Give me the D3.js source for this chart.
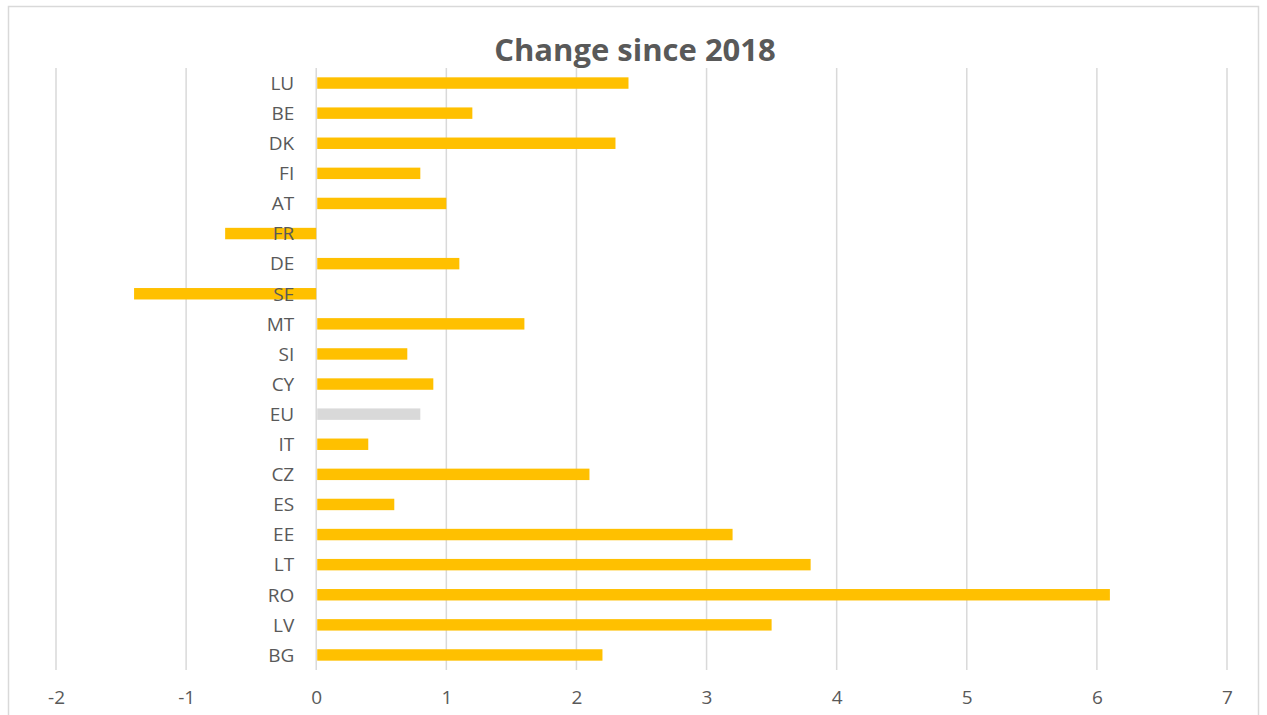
<!DOCTYPE html>
<html>
<head>
<meta charset="utf-8">
<script src="https://cdn.jsdelivr.net/npm/d3@7"></script>
<style>
  html, body { margin: 0; padding: 0; background: #fff; }
  svg { display: block; font-family: "Open Sans", "Liberation Sans", sans-serif; }
</style>
</head>
<body>
<svg id="chart" width="1267" height="715"></svg>
<script>
// Country codes, top to bottom
const countries = ["LU","BE","DK","FI","AT","FR","DE","SE","MT","SI","CY","EU","IT","CZ","ES","EE","LT","RO","LV","BG"];
// Change since 2018 (percentage points)
const changes = [2.4, 1.2, 2.3, 0.8, 1.0, -0.7, 1.1, -1.4, 1.6, 0.7, 0.9, 0.8, 0.4, 2.1, 0.6, 3.2, 3.8, 6.1, 3.5, 2.2];
const xTicks = [-2, -1, 0, 1, 2, 3, 4, 5, 6, 7];
const title = "Change since 2018";

const svg = d3.select("#chart");
const plot = { left: 56, right: 1227, top: 68, bottom: 670 };
const textColor = "#595959";

// Outer frame
svg.append("rect")
  .attr("x", 8.5).attr("y", 6.5)
  .attr("width", 1250).attr("height", 720)
  .attr("fill", "#fff").attr("stroke", "#d9d9d9").attr("stroke-width", 1.5);

const x = d3.scaleLinear().domain([-2, 7]).range([plot.left, plot.right]);
const y = d3.scaleBand().domain(countries).range([plot.top, plot.bottom]).paddingInner(0.62).paddingOuter(0.31);

// Vertical gridlines
svg.append("g")
  .selectAll("line")
  .data(xTicks)
  .join("line")
  .attr("x1", d => x(d)).attr("x2", d => x(d))
  .attr("y1", plot.top).attr("y2", plot.bottom)
  .attr("stroke", "#d9d9d9").attr("stroke-width", 1.5);

// Bars
svg.append("g")
  .selectAll("rect")
  .data(countries.map((c, i) => ({ c, v: changes[i] })))
  .join("rect")
  .attr("x", d => d.v >= 0 ? x(0) + 1 : x(d.v))
  .attr("width", d => Math.abs(x(d.v) - x(0)) - (d.v >= 0 ? 1 : 0))
  .attr("y", d => y(d.c))
  .attr("height", y.bandwidth())
  .attr("fill", d => d.c === "EU" ? "#d9d9d9" : "#ffc000");

// Category labels
svg.append("g")
  .selectAll("text")
  .data(countries)
  .join("text")
  .attr("x", x(0) - 22)
  .attr("y", d => y(d) + y.bandwidth() / 2)
  .attr("dy", "0.36em")
  .attr("text-anchor", "end")
  .attr("fill", textColor)
  .attr("font-size", 19)
  .text(d => d);

// X axis tick labels (plain hyphen for negatives)
const xAxis = d3.axisBottom(x).tickValues(xTicks).tickSize(0).tickPadding(0).tickFormat(d => String(d));
const ax = svg.append("g").attr("transform", `translate(0, ${plot.bottom + 20})`).call(xAxis);
ax.select(".domain").remove();
ax.selectAll("text")
  .attr("fill", textColor)
  .attr("font-size", 19)
  .attr("font-family", "\"Open Sans\", \"Liberation Sans\", sans-serif");

// Title
svg.append("text")
  .attr("x", 635).attr("y", 61)
  .attr("text-anchor", "middle")
  .attr("fill", textColor)
  .attr("font-size", 31)
  .attr("font-weight", "bold")
  .text(title);
</script>
</body>
</html>
